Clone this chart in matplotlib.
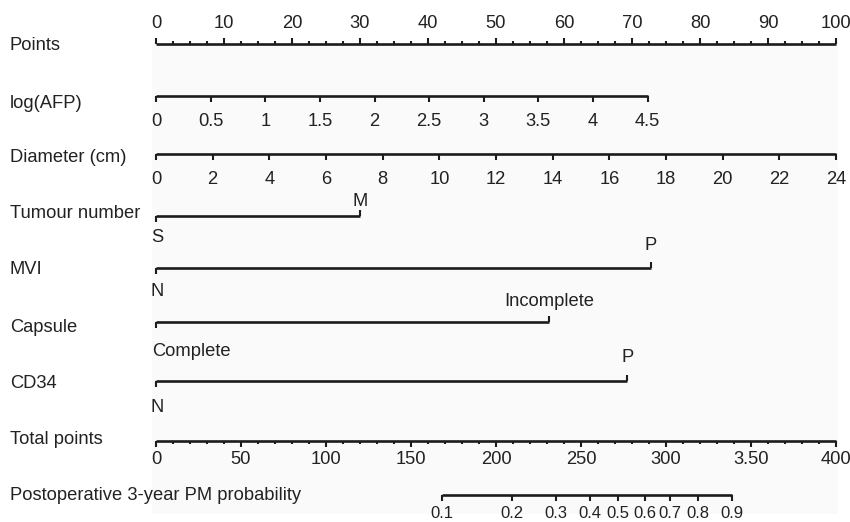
import matplotlib
matplotlib.use("Agg")
import matplotlib.pyplot as plt
import numpy as np

# ---- data ----
points_ticks = list(range(0, 101, 10))
afp_ticks = [0, 0.5, 1, 1.5, 2, 2.5, 3, 3.5, 4, 4.5]
afp_tick_labels = ["0", "0.5", "1", "1.5", "2", "2.5", "3", "3.5", "4", "4.5"]
afp_max_points = 72.3
diameter_ticks = list(range(0, 25, 2))
diameter_max_points = 100.0
tumour_levels = ["S", "M"]
tumour_points = [0, 30.0]
mvi_levels = ["N", "P"]
mvi_points = [0, 72.8]
capsule_levels = ["Complete", "Incomplete"]
capsule_points = [0, 57.8]
cd34_levels = ["N", "P"]
cd34_points = [0, 69.3]
total_ticks = [0, 50, 100, 150, 200, 250, 300, 350, 400]
total_tick_labels = ["0", "50", "100", "150", "200", "250", "300", "3.50", "400"]
prob_labels = ["0.1", "0.2", "0.3", "0.4", "0.5", "0.6", "0.7", "0.8", "0.9"]
prob_total_points = [168, 209.6, 235.3, 255.3, 271.6, 287.6, 302.4, 318.6, 339]

row_names = ["Points", "log(AFP)", "Diameter (cm)", "Tumour number", "MVI",
             "Capsule", "CD34", "Total points", "Postoperative 3-year PM probability"]

# ---- layout ----
W, H = 850, 522
fig = plt.figure(figsize=(8.5, 5.22), dpi=100)
ax = fig.add_axes([0, 0, 1, 1])
ax.set_xlim(0, W)
ax.set_ylim(H, 0)
ax.axis("off")

X0, X1 = 156, 836
def px(pts):
    return X0 + (X1 - X0) * pts / 100.0
def tx(tot):
    return X0 + (X1 - X0) * tot / 400.0

LC = "#1c1c1c"
TC = "#222222"
FS = 13.2
LW = 1.9
FAM = ["Liberation Sans", "DejaVu Sans"]

# faint panel background
ax.add_patch(plt.Rectangle((152, 44), 686, 470, facecolor="#fafafa", edgecolor="none", zorder=0))

def hline(xa, xb, y):
    ax.plot([xa, xb], [y, y], color=LC, lw=LW, solid_capstyle="butt", zorder=3)
def tick(x, y, length, lw=1.5):
    ax.plot([x, x], [y, y + length], color=LC, lw=lw, solid_capstyle="butt", zorder=3)
def label(x, y, s, ha="center", va="center", fs=FS):
    ax.text(x, y, s, ha=ha, va=va, fontsize=fs, color=TC, family=FAM)

row_y = [44, 96, 154, 216, 268, 322, 381, 441, 495]
name_y = [45, 103, 158, 214, 270, 328, 383, 440, 495]
for nm, yy in zip(row_names, name_y):
    label(10, yy, nm, ha="left")

# Points
y = row_y[0]
hline(px(0), px(100), y)
for v in points_ticks:
    tick(px(v), y, -6)
    label(px(v), 24, str(v))
for v in np.arange(0, 100.01, 2.5):
    if v % 10 != 0:
        tick(px(v), y, -3)

# log(AFP)
y = row_y[1]
afp_to_pts = lambda v: v / afp_ticks[-1] * afp_max_points
hline(px(0), px(afp_max_points), y)
for v, s in zip(afp_ticks, afp_tick_labels):
    tick(px(afp_to_pts(v)), y, 6)
    label(px(afp_to_pts(v)), 121, s)

# Diameter
y = row_y[2]
d_to_pts = lambda v: v / diameter_ticks[-1] * diameter_max_points
hline(px(0), px(diameter_max_points), y)
for v in diameter_ticks:
    tick(px(d_to_pts(v)), y, 6)
    label(px(d_to_pts(v)), 180, str(v))

# categorical rows
cats = [(tumour_levels, tumour_points, row_y[3], 201, 237),
        (mvi_levels, mvi_points, row_y[4], 246, 292),
        (capsule_levels, capsule_points, row_y[5], 302, 352),
        (cd34_levels, cd34_points, row_y[6], 357, 408)]
for levels, pts, y, ytop, ybot in cats:
    hline(px(min(pts)), px(max(pts)), y)
    for i, (lv, p) in enumerate(zip(levels, pts)):
        if i == 0:
            tick(px(p), y, 6)
            if len(lv) > 1:
                label(px(p) - 4, ybot, lv, ha="left")
            else:
                label(px(p) + 1, ybot, lv)
        else:
            tick(px(p), y, -6)
            label(px(p), ytop, lv)

# Total points
y = row_y[7]
hline(tx(0), tx(400), y)
for v, s in zip(total_ticks, total_tick_labels):
    tick(tx(v), y, 6)
    label(tx(v), 460, s)
for v in range(0, 401, 10):
    if v % 50 != 0:
        tick(tx(v), y, 3)

# Probability
y = row_y[8]
hline(tx(prob_total_points[0]), tx(prob_total_points[-1]), y)
for s, v in zip(prob_labels, prob_total_points):
    tick(tx(v), y, 6)
    label(tx(v), 513, s, fs=12)

fig.savefig("out.png", dpi=100)
